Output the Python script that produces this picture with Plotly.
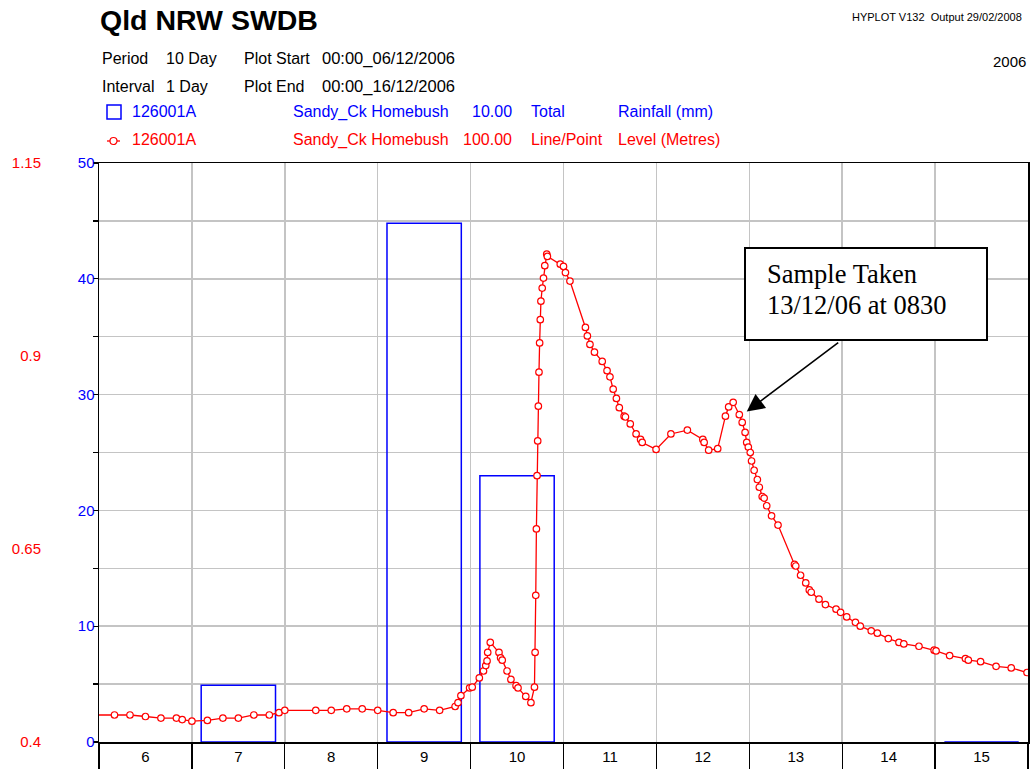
import plotly.graph_objects as go

# ---------------- data ----------------
rain_days = ["2006-12-06 12:00", "2006-12-07 12:00", "2006-12-08 12:00", "2006-12-09 12:00",
             "2006-12-10 12:00", "2006-12-11 12:00", "2006-12-12 12:00", "2006-12-13 12:00",
             "2006-12-14 12:00", "2006-12-15 12:00"]
rain_mm = [None, 4.9, None, 44.8, 23.0, None, None, None, None, 0.0]

level_times = [
    "2006-12-05 20:00", "2006-12-06 04:00", "2006-12-06 08:00", "2006-12-06 12:00", "2006-12-06 16:00",
    "2006-12-06 20:00", "2006-12-06 21:30", "2006-12-07 00:00", "2006-12-07 04:00", "2006-12-07 08:00",
    "2006-12-07 12:00", "2006-12-07 16:00", "2006-12-07 20:00", "2006-12-07 22:30", "2006-12-08 00:00",
    "2006-12-08 08:00", "2006-12-08 12:00", "2006-12-08 16:00", "2006-12-08 20:00", "2006-12-09 00:00",
    "2006-12-09 04:00", "2006-12-09 08:00", "2006-12-09 12:00", "2006-12-09 16:00", "2006-12-09 20:00",
    "2006-12-09 20:45", "2006-12-09 21:30", "2006-12-09 23:45", "2006-12-10 00:25", "2006-12-10 02:15",
    "2006-12-10 03:20", "2006-12-10 03:55", "2006-12-10 04:15", "2006-12-10 04:25", "2006-12-10 05:05",
    "2006-12-10 07:20", "2006-12-10 07:45", "2006-12-10 08:10", "2006-12-10 09:25", "2006-12-10 10:25",
    "2006-12-10 11:45", "2006-12-10 12:15", "2006-12-10 14:15", "2006-12-10 15:35", "2006-12-10 16:30",
    "2006-12-10 16:40", "2006-12-10 16:50", "2006-12-10 17:00", "2006-12-10 17:10", "2006-12-10 17:20",
    "2006-12-10 17:30", "2006-12-10 17:40", "2006-12-10 17:50", "2006-12-10 18:00", "2006-12-10 18:10",
    "2006-12-10 18:30", "2006-12-10 18:50", "2006-12-10 19:10", "2006-12-10 19:40", "2006-12-10 19:50",
    "2006-12-10 23:10", "2006-12-11 00:00", "2006-12-11 00:30", "2006-12-11 01:40", "2006-12-11 05:40",
    "2006-12-11 06:10", "2006-12-11 06:50", "2006-12-11 08:00", "2006-12-11 10:00", "2006-12-11 11:15",
    "2006-12-11 12:00", "2006-12-11 12:50", "2006-12-11 13:40", "2006-12-11 14:25", "2006-12-11 15:40",
    "2006-12-11 16:00", "2006-12-11 17:15", "2006-12-11 18:45", "2006-12-11 19:55", "2006-12-11 20:20",
    "2006-12-11 23:55", "2006-12-12 03:45", "2006-12-12 08:00", "2006-12-12 12:00", "2006-12-12 12:20",
    "2006-12-12 13:30", "2006-12-12 15:50", "2006-12-12 17:50", "2006-12-12 18:40", "2006-12-12 19:50",
    "2006-12-12 21:25", "2006-12-12 22:10", "2006-12-12 22:55", "2006-12-12 23:20", "2006-12-12 23:45",
    "2006-12-13 00:15", "2006-12-13 00:35", "2006-12-13 01:15", "2006-12-13 02:05", "2006-12-13 02:35",
    "2006-12-13 03:20", "2006-12-13 03:50", "2006-12-13 04:30", "2006-12-13 05:45", "2006-12-13 07:25",
    "2006-12-13 11:40", "2006-12-13 12:00", "2006-12-13 13:15", "2006-12-13 14:35", "2006-12-13 15:30",
    "2006-12-13 16:00", "2006-12-13 18:00", "2006-12-13 19:40", "2006-12-13 22:25", "2006-12-13 23:35",
    "2006-12-14 01:10", "2006-12-14 03:25", "2006-12-14 04:40", "2006-12-14 07:30", "2006-12-14 09:05",
    "2006-12-14 11:55", "2006-12-14 14:40", "2006-12-14 15:55", "2006-12-14 19:50", "2006-12-14 23:45",
    "2006-12-15 00:15", "2006-12-15 03:45", "2006-12-15 07:50", "2006-12-15 08:35", "2006-12-15 11:45",
    "2006-12-15 15:45", "2006-12-15 19:40", "2006-12-15 23:45",
]
level_m = [
    0.435, 0.435, 0.435, 0.433, 0.431,
    0.431, 0.429, 0.427, 0.428, 0.431,
    0.431, 0.435, 0.435, 0.438, 0.441,
    0.441, 0.441, 0.443, 0.443, 0.441,
    0.438, 0.438, 0.443, 0.441, 0.446,
    0.451, 0.460, 0.470, 0.471, 0.483,
    0.492, 0.499, 0.505, 0.516, 0.529,
    0.516, 0.509, 0.506, 0.492, 0.481,
    0.473, 0.470, 0.459, 0.451, 0.471,
    0.516, 0.590, 0.676, 0.745, 0.790,
    0.835, 0.879, 0.917, 0.947, 0.971,
    0.988, 1.001, 1.017, 1.032, 1.029,
    1.019, 1.016, 1.008, 0.997, 0.937,
    0.926, 0.915, 0.905, 0.893, 0.881,
    0.873, 0.857, 0.845, 0.833, 0.822,
    0.821, 0.812, 0.799, 0.792, 0.788,
    0.779, 0.799, 0.804, 0.792, 0.788,
    0.778, 0.780, 0.822, 0.834, 0.840,
    0.824, 0.814, 0.801, 0.788, 0.782,
    0.775, 0.764, 0.752, 0.740, 0.730,
    0.718, 0.716, 0.706, 0.693, 0.681,
    0.630, 0.628, 0.616, 0.606, 0.597,
    0.594, 0.585, 0.578, 0.572, 0.568,
    0.562, 0.555, 0.550, 0.544, 0.541,
    0.534, 0.529, 0.527, 0.524, 0.519,
    0.518, 0.512, 0.508, 0.506, 0.504,
    0.498, 0.496, 0.490,
]

level_ticks = [0.4, 0.65, 0.9, 1.15]
level_tick_text = ["0.4", "0.65", "0.9", "1.15"]

sample_time = "2006-12-12 23:20"
sample_level = 0.828

# ---------------- layout helpers ----------------
W, H = 1031, 769
ML, MR, MT, MB = 41, 3, 163, 27
PW, PH = W - ML - MR, H - MT - MB
PLOT_LEFT = 99


def px_x(x):
    return (x - ML) / PW


def px_y(y):
    return (H - MB - y) / PH


SANS = "Liberation Sans, Arial, sans-serif"
SERIF = "Liberation Serif, Times New Roman, serif"
BLUE = "#0000FF"
RED = "#FF0000"
GRID = "#C4C4C4"

fig = go.Figure()

fig.add_trace(go.Bar(
    x=rain_days, y=rain_mm, width=0.8 * 86400000,
    marker=dict(color="rgba(0,0,0,0)", line=dict(color=BLUE, width=1.5)),
    yaxis="y", showlegend=False, hoverinfo="x+y",
))

fig.add_trace(go.Scatter(
    x=level_times, y=level_m, mode="lines+markers", yaxis="y2",
    line=dict(color=RED, width=1.3),
    marker=dict(symbol="circle", size=6.5, color="white", line=dict(color=RED, width=1.2)),
    showlegend=False,
))

annotations = []


def ann(text, x, y, size=16, color="black", xanchor="left", family=SANS):
    annotations.append(dict(
        text=text, x=px_x(x), y=px_y(y), xref="paper", yref="paper",
        xanchor=xanchor, yanchor="middle", showarrow=False,
        font=dict(family=family, size=size, color=color),
    ))


ann("<b>Qld NRW SWDB</b>", 98, 20, size=28.5)
ann("HYPLOT V132  Output 29/02/2008", 850, 17, size=11)
ann("2006", 991, 61, size=15)

ann("Period", 100, 58)
ann("10 Day", 164, 58)
ann("Plot Start", 242, 58)
ann("00:00_06/12/2006", 320, 58, size=16.5)
ann("Interval", 100, 86)
ann("1 Day", 164, 86)
ann("Plot End", 242, 86)
ann("00:00_16/12/2006", 320, 86, size=16.5)

ann("126001A", 130, 112, color=BLUE)
ann("Sandy_Ck Homebush", 291, 112, color=BLUE)
ann("10.00", 514, 112, color=BLUE, xanchor="right")
ann("Total", 529, 112, color=BLUE)
ann("Rainfall (mm)", 616, 112, color=BLUE)

ann("126001A", 130, 140, color=RED)
ann("Sandy_Ck Homebush", 291, 140, color=RED)
ann("100.00", 514, 140, color=RED, xanchor="right")
ann("Line/Point", 529, 140, color=RED)
ann("Level (Metres)", 616, 140, color=RED)

# sample note
ann("Sample Taken", 765, 274, size=26.5, family=SERIF)
ann("13/12/06 at 0830", 765, 305, size=26.5, family=SERIF)

annotations.append(dict(
    x=sample_time, y=sample_level, xref="x", yref="y2", text="",
    showarrow=True, ax=93, ay=-70, arrowhead=2, arrowsize=2.2, arrowwidth=1.6,
    arrowcolor="black", standoff=0,
))

shapes = [
    # legend symbols
    dict(type="rect", xref="paper", yref="paper",
         x0=px_x(107), x1=px_x(121), y0=px_y(119), y1=px_y(105),
         line=dict(color=BLUE, width=1.5), fillcolor="rgba(0,0,0,0)"),
    dict(type="line", xref="paper", yref="paper",
         x0=px_x(107), x1=px_x(120), y0=px_y(141), y1=px_y(141),
         line=dict(color=RED, width=1.3)),
    dict(type="circle", xref="paper", yref="paper",
         x0=px_x(110), x1=px_x(117), y0=px_y(144.5), y1=px_y(137.5),
         line=dict(color=RED, width=1.2), fillcolor="white"),
    # note box
    dict(type="rect", xref="paper", yref="paper", layer="above",
         x0=px_x(745), x1=px_x(987), y0=px_y(340), y1=px_y(248),
         line=dict(color="black", width=2), fillcolor="white"),
]

fig.update_layout(
    width=W, height=H, template="none",
    margin=dict(l=ML, r=MR, t=MT, b=MB, pad=0),
    paper_bgcolor="white", plot_bgcolor="white",
    bargap=0, showlegend=False,
    font=dict(family=SANS, size=15, color="black"),
    xaxis=dict(
        type="date", range=["2006-12-06", "2006-12-16"],
        domain=[px_x(PLOT_LEFT), 1],
        tick0="2006-12-06", dtick=86400000, ticklabelmode="period", tickformat="%-d",
        ticks="outside", ticklen=27, tickwidth=1.2, tickcolor="black",
        ticklabelstandoff=-27,
        tickfont=dict(family=SANS, size=15, color="black"),
        showgrid=True, gridcolor=GRID, gridwidth=1.5,
        showline=True, linecolor="black", linewidth=1.5, mirror=True,
        zeroline=False, layer="below traces",
    ),
    yaxis=dict(
        range=[0, 50], dtick=10, tick0=0,
        ticks="outside", ticklen=5, tickwidth=1.2, tickcolor="black",
        ticklabelstandoff=-5,
        tickfont=dict(family=SANS, size=15, color=BLUE),
        showgrid=True, gridcolor=GRID, gridwidth=1.5,
        minor=dict(dtick=5, ticks="outside", ticklen=5, tickwidth=1.2, tickcolor="black",
                   showgrid=True, gridcolor=GRID, gridwidth=1.5),
        showline=True, linecolor="black", linewidth=1.5, mirror=True,
        zeroline=False, layer="below traces",
    ),
    yaxis2=dict(
        range=[0.4, 1.15], overlaying="y", anchor="free", position=0, side="left",
        tickvals=level_ticks, ticktext=level_tick_text, ticks="",
        tickfont=dict(family=SANS, size=15, color=RED),
        showgrid=False, showline=False, zeroline=False,
    ),
    annotations=annotations,
    shapes=shapes,
)

fig.write_html(
    "out.html",
    config={"displayModeBar": False, "staticPlot": True},
    post_script="document.body.style.margin='0';document.body.style.overflow='hidden';",
)
